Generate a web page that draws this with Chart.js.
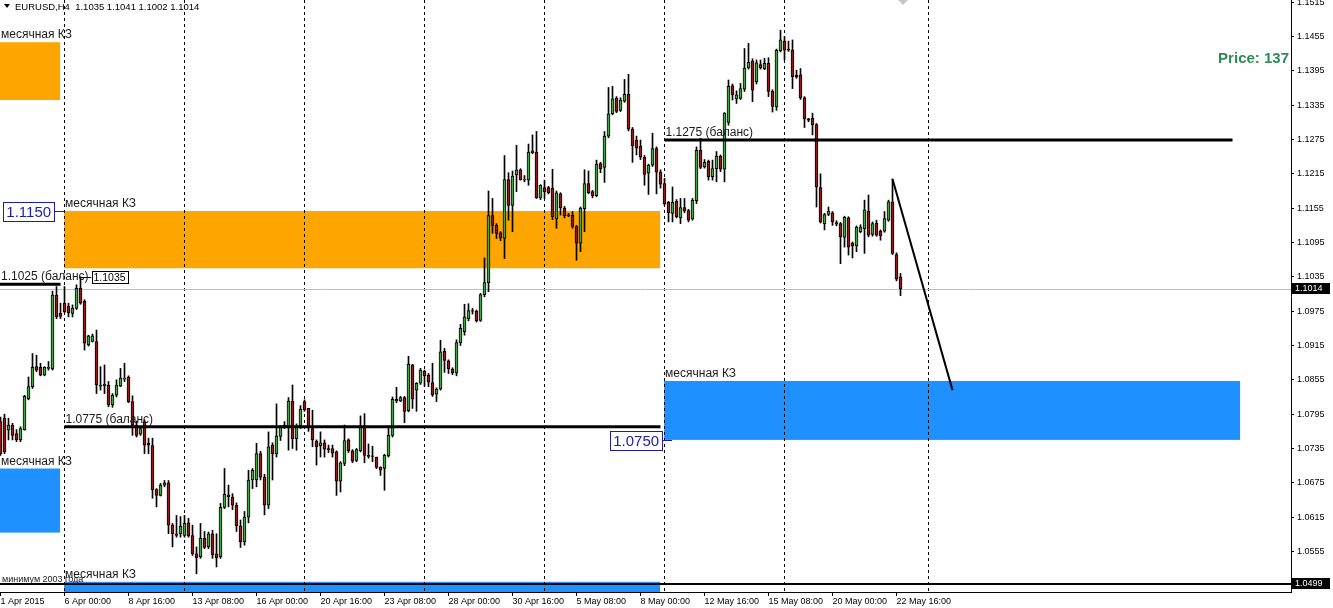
<!DOCTYPE html>
<html>
<head>
<meta charset="utf-8">
<script src="https://cdn.jsdelivr.net/npm/chart.js@4.4.0/dist/chart.umd.min.js"></script>
<style>
  html, body { margin: 0; padding: 0; background: #fff; }
  #wrap { width: 1333px; height: 608px; position: relative; }
</style>
</head>
<body>
<div id="wrap"><canvas id="chart"></canvas></div>
<script>
// EURUSD H4, one value per bar (bar 0 = 1 Apr 2015)
const opens = [
  1.0782,1.0788,1.0767,1.0776,1.0761,1.0750,1.0768,1.0822,1.0843,1.0878,
  1.0877,1.0863,1.0875,1.0874,1.1003,1.0971,1.0989,1.0984,1.0971,1.0980,
  1.1015,1.0992,1.0916,1.0922,1.0922,1.0846,1.0845,1.0846,1.0811,1.0828,
  1.0844,1.0856,1.0860,1.0817,1.0776,1.0760,1.0782,1.0744,1.0740,1.0663,
  1.0653,1.0671,1.0675,1.0601,1.0586,1.0586,1.0583,1.0605,1.0583,1.0551,
  1.0546,1.0578,1.0563,1.0586,1.0551,1.0546,1.0632,1.0654,1.0650,1.0636,
  1.0600,1.0572,1.0615,1.0680,1.0680,1.0726,1.0685,1.0636,1.0741,1.0726,
  1.0756,1.0773,1.0773,1.0818,1.0752,1.0774,1.0817,1.0805,1.0770,1.0748,
  1.0740,1.0745,1.0735,1.0735,1.0729,1.0678,1.0709,1.0750,1.0731,1.0714,
  1.0731,1.0773,1.0723,1.0722,1.0720,1.0702,1.0700,1.0722,1.0758,1.0821,
  1.0818,1.0824,1.0801,1.0881,1.0837,1.0849,1.0870,1.0863,1.0850,1.0830,
  1.0839,1.0905,1.0888,1.0874,1.0867,1.0920,1.0939,1.0962,1.0976,1.0975,
  1.0959,1.1004,1.1025,1.1142,1.1125,1.1112,1.1102,1.1205,1.1160,1.1213,
  1.1222,1.1205,1.1204,1.1252,1.1253,1.1173,1.1191,1.1191,1.1190,1.1136,
  1.1180,1.1155,1.1143,1.1143,1.1123,1.1094,1.1154,1.1198,1.1184,1.1177,
  1.1233,1.1226,1.1281,1.1320,1.1347,1.1326,1.1342,1.1354,1.1293,1.1274,
  1.1263,1.1244,1.1216,1.1230,1.1259,1.1218,1.1198,1.1165,1.1146,1.1167,
  1.1138,1.1156,1.1151,1.1136,1.1168,1.1256,1.1227,1.1237,1.1210,1.1224,
  1.1246,1.1223,1.1305,1.1369,1.1346,1.1347,1.1363,1.1400,1.1412,1.1376,
  1.1406,1.1399,1.1408,1.1359,1.1332,1.1430,1.1447,1.1433,1.1431,1.1387,
  1.1388,1.1348,1.1311,1.1312,1.1301,1.1191,1.1128,1.1144,1.1147,1.1130,
  1.1128,1.1104,1.1138,1.1094,1.1089,1.1114,1.1119,1.1150,1.1109,1.1129,
  1.1115,1.1115,1.1134,1.1166,1.1074,1.1035
];
const highs = [
  1.0790,1.0795,1.0788,1.0779,1.0768,1.0773,1.0828,1.0860,1.0901,1.0898,
  1.0884,1.0878,1.0887,1.1010,1.1018,1.0989,1.1018,1.0989,1.0986,1.1021,
  1.1035,1.0995,1.0933,1.0935,1.0942,1.0878,1.0881,1.0852,1.0831,1.0855,
  1.0875,1.0884,1.0862,1.0827,1.0783,1.0773,1.0785,1.0753,1.0753,1.0665,
  1.0674,1.0679,1.0679,1.0604,1.0618,1.0616,1.0618,1.0613,1.0601,1.0563,
  1.0604,1.0590,1.0589,1.0592,1.0586,1.0639,1.0700,1.0671,1.0656,1.0640,
  1.0610,1.0625,1.0697,1.0700,1.0744,1.0730,1.0690,1.0764,1.0745,1.0813,
  1.0775,1.0782,1.0824,1.0846,1.0778,1.0810,1.0820,1.0805,1.0802,1.0750,
  1.0764,1.0750,1.0741,1.0741,1.0731,1.0712,1.0776,1.0752,1.0733,1.0735,
  1.0792,1.0796,1.0743,1.0739,1.0720,1.0703,1.0725,1.0774,1.0825,1.0842,
  1.0826,1.0826,1.0896,1.0882,1.0850,1.0875,1.0872,1.0866,1.0884,1.0841,
  1.0924,1.0910,1.0890,1.0876,1.0925,1.0952,1.0987,1.0988,1.0980,1.0977,
  1.1006,1.1068,1.1185,1.1172,1.1128,1.1114,1.1247,1.1217,1.1220,1.1265,
  1.1224,1.1212,1.1267,1.1283,1.1289,1.1196,1.1204,1.1193,1.1223,1.1185,
  1.1182,1.1158,1.1146,1.1149,1.1125,1.1157,1.1222,1.1220,1.1186,1.1239,
  1.1235,1.1289,1.1366,1.1368,1.1350,1.1348,1.1380,1.1389,1.1296,1.1281,
  1.1274,1.1247,1.1232,1.1286,1.1262,1.1222,1.1207,1.1167,1.1192,1.1170,
  1.1172,1.1172,1.1153,1.1172,1.1262,1.1277,1.1240,1.1239,1.1239,1.1254,
  1.1248,1.1322,1.1379,1.1372,1.1360,1.1373,1.1434,1.1443,1.1416,1.1414,
  1.1414,1.1417,1.1418,1.1362,1.1433,1.1466,1.1455,1.1447,1.1449,1.1396,
  1.1399,1.1350,1.1312,1.1321,1.1303,1.1215,1.1146,1.1157,1.1149,1.1133,
  1.1130,1.1141,1.1140,1.1096,1.1124,1.1126,1.1169,1.1178,1.1131,1.1134,
  1.1117,1.1149,1.1169,1.1206,1.1077,1.1041
];
const lows = [
  1.0723,1.0726,1.0750,1.0750,1.0747,1.0747,1.0767,1.0820,1.0840,1.0869,
  1.0862,1.0862,1.0872,1.0872,1.0962,1.0962,1.0972,1.0965,1.0965,1.0978,
  1.0987,1.0907,1.0914,1.0921,1.0831,1.0837,1.0831,1.0808,1.0807,1.0825,
  1.0843,1.0852,1.0815,1.0758,1.0755,1.0758,1.0726,1.0726,1.0648,1.0633,
  1.0652,1.0668,1.0586,1.0563,1.0580,1.0580,1.0580,1.0580,1.0548,1.0516,
  1.0543,1.0560,1.0560,1.0543,1.0528,1.0543,1.0630,1.0633,1.0628,1.0590,
  1.0562,1.0566,1.0605,1.0665,1.0668,1.0680,1.0619,1.0630,1.0680,1.0720,
  1.0749,1.0770,1.0732,1.0735,1.0732,1.0770,1.0800,1.0765,1.0738,1.0706,
  1.0720,1.0720,1.0728,1.0720,1.0653,1.0659,1.0705,1.0728,1.0710,1.0712,
  1.0729,1.0710,1.0718,1.0712,1.0700,1.0688,1.0662,1.0720,1.0755,1.0815,
  1.0817,1.0780,1.0799,1.0805,1.0800,1.0847,1.0844,1.0843,1.0826,1.0817,
  1.0837,1.0868,1.0866,1.0864,1.0862,1.0915,1.0933,1.0958,1.0970,1.0956,
  1.0957,1.1000,1.1009,1.1111,1.1102,1.1098,1.1067,1.1134,1.1114,1.1184,
  1.1204,1.1201,1.1195,1.1250,1.1172,1.1170,1.1172,1.1180,1.1135,1.1120,
  1.1143,1.1138,1.1140,1.1120,1.1064,1.1079,1.1114,1.1180,1.1173,1.1175,
  1.1217,1.1200,1.1278,1.1318,1.1322,1.1324,1.1340,1.1290,1.1235,1.1248,
  1.1240,1.1195,1.1179,1.1228,1.1180,1.1190,1.1160,1.1131,1.1131,1.1138,
  1.1128,1.1147,1.1131,1.1134,1.1163,1.1224,1.1225,1.1204,1.1204,1.1201,
  1.1219,1.1201,1.1300,1.1344,1.1338,1.1345,1.1359,1.1398,1.1341,1.1372,
  1.1398,1.1397,1.1350,1.1323,1.1326,1.1428,1.1414,1.1429,1.1364,1.1382,
  1.1345,1.1296,1.1306,1.1283,1.1157,1.1129,1.1117,1.1142,1.1125,1.1124,
  1.1058,1.1087,1.1073,1.1068,1.1079,1.1112,1.1076,1.1105,1.1106,1.1106,
  1.1099,1.1113,1.1132,1.1074,1.1028,1.1002
];
const closes = [
  1.0726,1.0729,1.0776,1.0758,1.0750,1.0770,1.0826,1.0843,1.0877,1.0872,
  1.0863,1.0877,1.0877,1.1003,1.0965,1.0966,1.0974,1.0972,1.0980,1.1015,
  1.0989,1.0919,1.0932,1.0932,1.0846,1.0844,1.0847,1.0811,1.0828,1.0846,
  1.0858,1.0858,1.0817,1.0776,1.0758,1.0770,1.0741,1.0741,1.0663,1.0653,
  1.0671,1.0675,1.0601,1.0586,1.0583,1.0599,1.0604,1.0582,1.0551,1.0544,
  1.0578,1.0562,1.0586,1.0549,1.0544,1.0632,1.0655,1.0651,1.0636,1.0600,
  1.0572,1.0615,1.0680,1.0697,1.0726,1.0685,1.0636,1.0738,1.0726,1.0757,
  1.0773,1.0776,1.0818,1.0752,1.0774,1.0804,1.0803,1.0773,1.0750,1.0738,
  1.0745,1.0734,1.0733,1.0727,1.0678,1.0710,1.0749,1.0731,1.0713,1.0733,
  1.0773,1.0723,1.0721,1.0721,1.0702,1.0697,1.0723,1.0758,1.0821,1.0818,
  1.0824,1.0800,1.0882,1.0821,1.0849,1.0872,1.0862,1.0851,1.0829,1.0839,
  1.0904,1.0889,1.0874,1.0867,1.0920,1.0945,1.0965,1.0976,1.0975,1.0958,
  1.1004,1.1025,1.1142,1.1125,1.1111,1.1103,1.1205,1.1160,1.1211,1.1222,
  1.1205,1.1204,1.1253,1.1255,1.1173,1.1195,1.1184,1.1182,1.1140,1.1182,
  1.1156,1.1142,1.1142,1.1123,1.1094,1.1155,1.1198,1.1182,1.1177,1.1232,
  1.1224,1.1281,1.1320,1.1346,1.1324,1.1344,1.1354,1.1293,1.1264,1.1260,
  1.1244,1.1214,1.1230,1.1259,1.1218,1.1197,1.1163,1.1147,1.1165,1.1140,
  1.1156,1.1150,1.1134,1.1169,1.1256,1.1226,1.1235,1.1210,1.1224,1.1246,
  1.1223,1.1321,1.1368,1.1353,1.1353,1.1364,1.1400,1.1410,1.1361,1.1409,
  1.1400,1.1408,1.1359,1.1333,1.1431,1.1449,1.1431,1.1431,1.1385,1.1384,
  1.1348,1.1311,1.1309,1.1301,1.1192,1.1131,1.1144,1.1150,1.1131,1.1127,
  1.1105,1.1139,1.1087,1.1089,1.1122,1.1122,1.1152,1.1108,1.1128,1.1108,
  1.1107,1.1137,1.1166,1.1076,1.1031,1.1014
];

// time axis: label every 16 bars
const timeTickBars = [0, 16, 32, 48, 64, 80, 96, 112, 128, 144, 160, 176, 192, 208, 224];
const timeLabels = ['1 Apr 2015', '6 Apr 00:00', '8 Apr 16:00', '13 Apr 08:00', '16 Apr 00:00',
  '20 Apr 16:00', '23 Apr 08:00', '28 Apr 00:00', '30 Apr 16:00', '5 May 08:00',
  '8 May 00:00', '12 May 16:00', '15 May 08:00', '20 May 00:00', '22 May 16:00'];
const priceTicks = [1.0555, 1.0615, 1.0675, 1.0735, 1.0795, 1.0855, 1.0915, 1.0975, 1.1035,
  1.1095, 1.1155, 1.1215, 1.1275, 1.1335, 1.1395, 1.1455, 1.1515];
const priceMin = 1.04842, priceMax = 1.15188;
const barMin = -0.125, barMax = 322.625;

// weekly separators (bar index)
const separatorBars = [16, 46, 76, 106, 136, 166, 196, 232];

// monthly zones ("месячная КЗ")
const zoneFrom = [-2, 15.9, -2, 165.9, 15.9];
const zoneTo = [14.9, 164.9, 14.9, 309.9, 164.9];
const zoneTop = [1.1445, 1.1150, 1.0700, 1.0853, 1.0502];
const zoneBottom = [1.1344, 1.1050, 1.0588, 1.0750, 1.0470];
const zoneIsSell = [true, true, false, false, false];

// balance levels
const levelFrom = [-2, 16, 166];
const levelTo = [15, 165, 308];
const levelPrice = [1.1022, 1.0773, 1.1274];
const levelText = ['1.1025 (баланс)', '1.0775 (баланс)', '1.1275 (баланс)'];

// forecast line and other marks
const trendBars = [223, 238];
const trendPrices = [1.1206, 1.0837];
const lastPrice = 1.1014;
const low2003 = 1.0498;
const aprilHigh = 1.1035, aprilHighBar = 20;

const FONT = "'Liberation Sans', Arial, sans-serif";
const GREEN = '#47a447', RED = '#8e1b1b';

const wicks = lows.map((l, i) => ({ x: i, y: [l, highs[i]] }));
const bodies = opens.map((o, i) => ({ x: i, y: [o, closes[i]] }));
const bodyColors = opens.map((o, i) => closes[i] >= o ? GREEN : RED);

function hline(from, to, price) {
  return [{ x: from, y: price }, { x: to, y: price }];
}

const lineDefaults = { type: 'line', borderColor: '#000', pointRadius: 0, tension: 0, order: -1 };

const overlay = {
  id: 'overlay',
  beforeDatasetsDraw(chart) {
    const { ctx, chartArea: a, scales: { x, y } } = chart;
    ctx.save();
    ctx.beginPath();
    ctx.rect(a.left, a.top, a.right - a.left, a.bottom - a.top);
    ctx.clip();
    // zones
    zoneFrom.forEach((f, k) => {
      const x0 = x.getPixelForValue(f), x1 = x.getPixelForValue(zoneTo[k]);
      const y0 = y.getPixelForValue(zoneTop[k]), y1 = y.getPixelForValue(zoneBottom[k]);
      ctx.fillStyle = zoneIsSell[k] ? '#ffa500' : '#1e90ff';
      ctx.fillRect(x0, y0, x1 - x0, y1 - y0);
    });
    // separators
    ctx.strokeStyle = '#000';
    ctx.lineWidth = 1;
    ctx.setLineDash([3, 3]);
    separatorBars.forEach(b => {
      const px = Math.floor(x.getPixelForValue(b)) + 0.5;
      ctx.beginPath();
      ctx.moveTo(px, a.top);
      ctx.lineTo(px, a.bottom);
      ctx.stroke();
    });
    ctx.setLineDash([]);
    // current price line
    const py = Math.round(y.getPixelForValue(lastPrice)) + 0.5;
    ctx.strokeStyle = '#c0c0c0';
    ctx.beginPath();
    ctx.moveTo(a.left, py);
    ctx.lineTo(a.right, py);
    ctx.stroke();
    // small grey marker at the top edge
    ctx.fillStyle = '#c8c8c8';
    ctx.beginPath();
    ctx.moveTo(898, a.top); ctx.lineTo(908, a.top); ctx.lineTo(903, a.top + 5); ctx.closePath();
    ctx.fill();
    ctx.restore();
  },
  afterDatasetsDraw(chart) {
    const { ctx, chartArea: a, scales: { x, y } } = chart;
    ctx.save();
    ctx.textBaseline = 'alphabetic';
    ctx.textAlign = 'left';

    // zone captions
    ctx.font = '12px ' + FONT;
    ctx.fillStyle = '#1a1a1a';
    zoneFrom.forEach((f, k) => {
      const x0 = Math.max(x.getPixelForValue(f), 0) + 1;
      ctx.fillText('месячная КЗ', x0, y.getPixelForValue(zoneTop[k]) - 4);
    });

    // level captions
    levelFrom.forEach((f, k) => {
      const x0 = Math.max(x.getPixelForValue(f), 0) + 1;
      ctx.fillText(levelText[k], x0, y.getPixelForValue(levelPrice[k]) - 4);
    });

    ctx.font = '9px ' + FONT;
    ctx.fillText('минимум 2003 года', 2, y.getPixelForValue(low2003) - 2);

    // price labels of the zones
    function priceBox(text, right, cy, connFrom, connTo) {
      ctx.font = '15px ' + FONT;
      const w = ctx.measureText(text).width + 6;
      ctx.fillStyle = '#fff';
      ctx.fillRect(right - w, cy - 9, w, 19);
      ctx.strokeStyle = '#1c1caa';
      ctx.lineWidth = 1;
      ctx.strokeRect(Math.round(right - w) + 0.5, Math.round(cy - 9) + 0.5, Math.round(w), 19);
      ctx.fillStyle = '#1c1caa';
      ctx.textAlign = 'left';
      ctx.textBaseline = 'middle';
      ctx.fillText(text, right - w + 3, cy + 1.5);
      ctx.beginPath();
      ctx.moveTo(connFrom, Math.round(cy) + 0.5);
      ctx.lineTo(connTo, Math.round(cy) + 0.5);
      ctx.stroke();
    }
    const z2left = x.getPixelForValue(zoneFrom[1]);
    priceBox(zoneTop[1].toFixed(4), z2left - 10, y.getPixelForValue(zoneTop[1]), z2left - 10, z2left);
    const z4left = x.getPixelForValue(zoneFrom[3]);
    priceBox(zoneBottom[3].toFixed(4), z4left - 2, y.getPixelForValue(zoneBottom[3]), z4left - 2, z4left + 8);

    // April high marker
    const hx = x.getPixelForValue(aprilHighBar), hy = Math.round(y.getPixelForValue(aprilHigh)) + 0.5;
    ctx.strokeStyle = '#000';
    ctx.beginPath();
    ctx.moveTo(hx, hy);
    ctx.lineTo(hx + 11, hy);
    ctx.stroke();
    ctx.font = '10.5px ' + FONT;
    const hw = ctx.measureText(aprilHigh.toFixed(4)).width + 4;
    ctx.fillStyle = '#fff';
    ctx.fillRect(hx + 11, hy - 6, hw, 12);
    ctx.strokeRect(Math.round(hx + 11) + 0.5, hy - 6, Math.round(hw), 12);
    ctx.fillStyle = '#000';
    ctx.textBaseline = 'middle';
    ctx.fillText(aprilHigh.toFixed(4), hx + 13, hy + 1);

    // header
    ctx.fillStyle = '#000';
    ctx.beginPath();
    ctx.moveTo(4, 4); ctx.lineTo(10, 4); ctx.lineTo(7, 8); ctx.closePath();
    ctx.fill();
    ctx.font = '9.5px ' + FONT;
    ctx.textBaseline = 'alphabetic';
    const last = opens.length - 1;
    ctx.fillText('EURUSD,H4  ' + [opens[last], highs[last], lows[last], closes[last]].map(v => v.toFixed(4)).join(' '), 15, 10);

    // price counter
    ctx.font = 'bold 15px ' + FONT;
    ctx.fillStyle = '#2e8b57';
    ctx.textAlign = 'right';
    ctx.fillText('Price: 137', a.right - 2, 63);
    ctx.restore();
  },
  afterDraw(chart) {
    const { ctx, chartArea: a, scales: { y } } = chart;
    ctx.save();
    ctx.font = '9px ' + FONT;
    ctx.textBaseline = 'middle';
    ctx.textAlign = 'left';
    [lastPrice, low2003 + 0.0001].forEach(p => {
      const py = y.getPixelForValue(p);
      let top = Math.round(py) - 6;
      top = Math.min(top, a.bottom - 10);
      ctx.fillStyle = '#000';
      ctx.fillRect(a.right + 1, top, 38, 11);
      ctx.fillStyle = '#fff';
      ctx.fillText(p.toFixed(4), a.right + 4, top + 6);
    });
    ctx.restore();
  }
};

new Chart(document.getElementById('chart'), {
  type: 'bar',
  data: {
    datasets: [
      { ...lineDefaults, data: hline(levelFrom[0], levelTo[0], levelPrice[0]), borderWidth: 3 },
      { ...lineDefaults, data: hline(levelFrom[1], levelTo[1], levelPrice[1]), borderWidth: 3 },
      { ...lineDefaults, data: hline(levelFrom[2], levelTo[2], levelPrice[2]), borderWidth: 3 },
      { ...lineDefaults, data: hline(barMin - 1, barMax + 1, low2003), borderWidth: 2 },
      { ...lineDefaults, data: trendBars.map((b, k) => ({ x: b, y: trendPrices[k] })), borderWidth: 2 },
      {
        type: 'bar', data: bodies, grouped: false, barThickness: 3,
        backgroundColor: bodyColors, borderColor: '#000', borderWidth: 1,
        borderSkipped: false, order: 0
      },
      {
        type: 'bar', data: wicks, grouped: false, barThickness: 1,
        backgroundColor: '#000', borderWidth: 0, order: 1
      }
    ]
  },
  options: {
    responsive: true,
    maintainAspectRatio: false,
    animation: false,
    events: [],
    layout: { padding: 0 },
    plugins: { legend: { display: false }, tooltip: { enabled: false } },
    scales: {
      x: {
        type: 'linear', position: 'bottom', min: barMin, max: barMax, offset: false,
        afterBuildTicks: s => { s.ticks = timeTickBars.map(v => ({ value: v })); },
        afterFit: s => { s.height = 16; s.paddingLeft = 0; s.paddingRight = 0; },
        ticks: {
          autoSkip: false, maxRotation: 0, minRotation: 0, align: 'start', padding: 0,
          color: '#000', font: { family: FONT, size: 9 },
          callback: v => { const k = timeTickBars.indexOf(v); return k >= 0 ? timeLabels[k] : ''; }
        },
        grid: { offset: false, drawOnChartArea: false, drawTicks: true, tickLength: 4, color: '#000' },
        border: { display: true, color: '#000', width: 1 }
      },
      y: {
        type: 'linear', position: 'right', min: priceMin, max: priceMax,
        afterBuildTicks: s => { s.ticks = priceTicks.map(v => ({ value: v })); },
        afterFit: s => { s.width = 42; s.paddingTop = 0; s.paddingBottom = 0; },
        ticks: {
          autoSkip: false, padding: 3, color: '#000', font: { family: FONT, size: 9 },
          callback: v => Number(v).toFixed(4)
        },
        grid: { drawOnChartArea: false, drawTicks: true, tickLength: 3, color: '#000' },
        border: { display: true, color: '#000', width: 1 }
      }
    }
  },
  plugins: [overlay]
});
</script>
</body>
</html>
